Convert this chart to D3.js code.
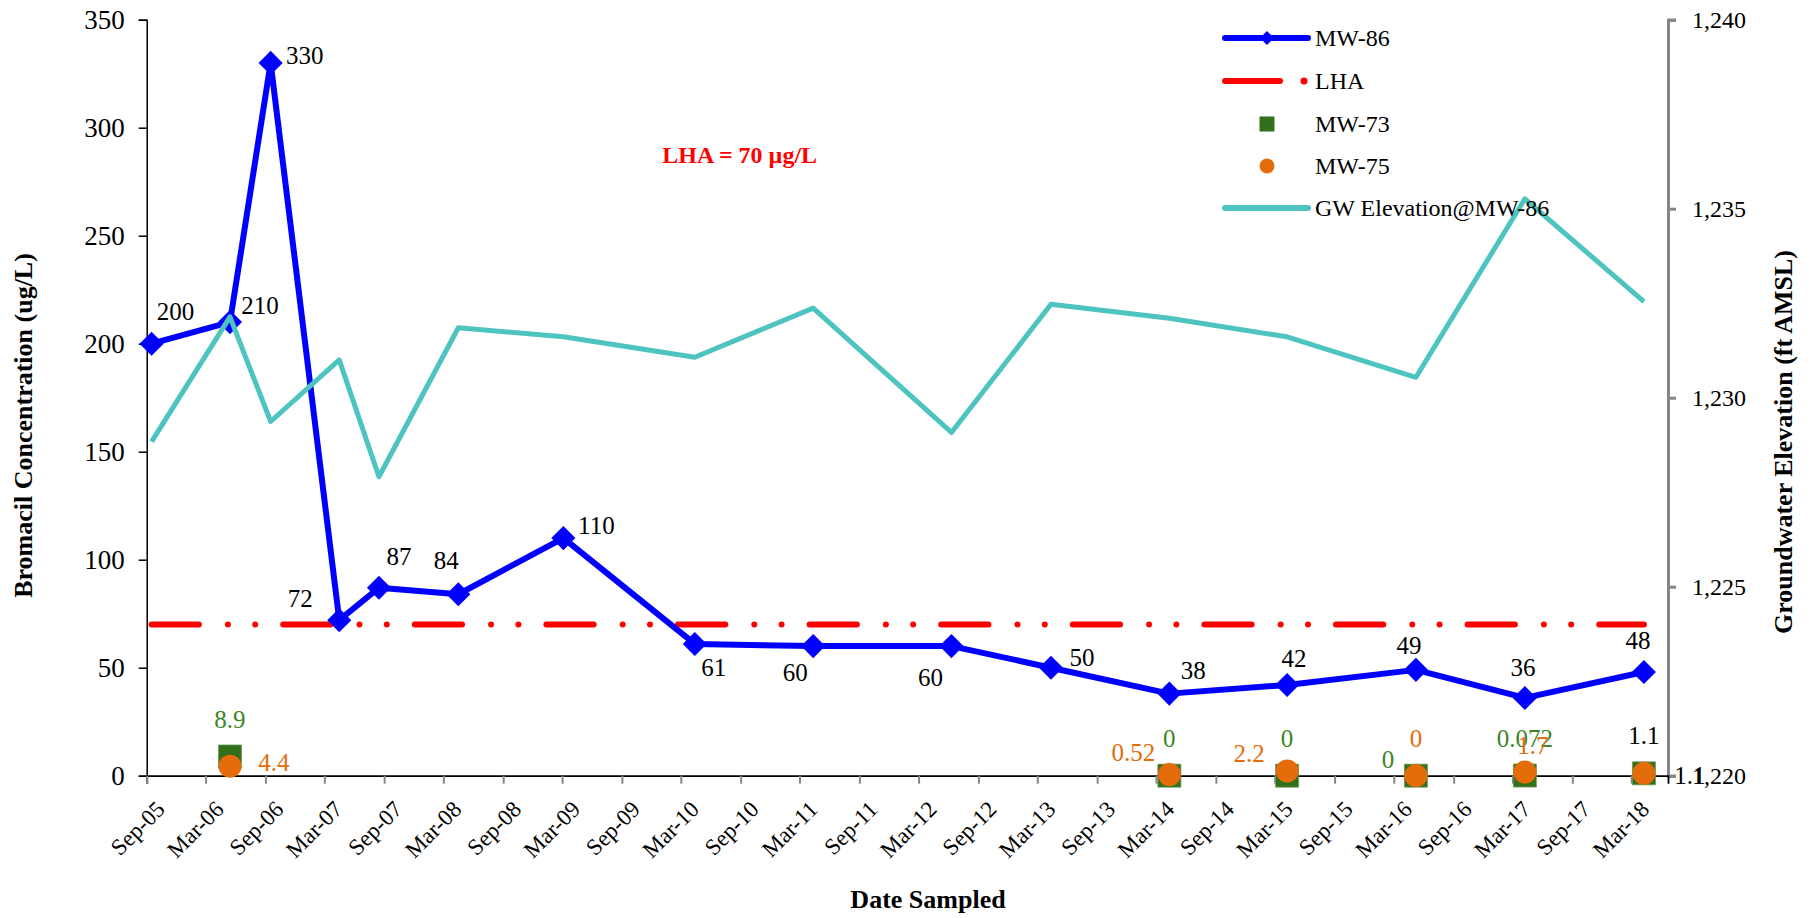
<!DOCTYPE html>
<html><head><meta charset="utf-8">
<script src="https://cdn.jsdelivr.net/npm/d3@7"></script>
<style>
html,body{margin:0;padding:0;background:#fff;}
svg{display:block;}
text{font-family:"Liberation Serif","Times New Roman",Times,serif;}
</style>
</head><body>
<svg id="chart" width="1816" height="918"></svg>
<script>
// ---------------- DATA ----------------
const sampleDates = ["2005-09-16","2006-05-15","2006-09-17","2007-04-16","2007-08-16","2008-04-16",
  "2009-03-05","2010-04-13","2011-04-12","2012-06-10","2013-04-12","2014-04-11","2015-04-08",
  "2016-05-08","2017-04-08","2018-04-09"];
const mw86 = [200,210,330,72,87,84,110,61,60,60,50,38,42,49,36,48];
const gwElevation = [1228.84,1232.14,1229.37,1231.0,1227.91,1231.85,1231.61,1231.07,1232.37,1229.08,
  1232.47,1232.10,1231.61,1230.54,1235.26,1232.54];
const lhaValue = 70;
const otherDates = ["2006-05-15","2014-04-11","2015-04-08","2016-05-08","2017-04-08","2018-04-09"];
const mw73 = [8.9,0,0,0,0.072,1.1];
const mw75 = [4.4,0.52,2.2,0,1.7,1.1];
const xTickLabels = ["Sep-05","Mar-06","Sep-06","Mar-07","Sep-07","Mar-08","Sep-08","Mar-09","Sep-09",
  "Mar-10","Sep-10","Mar-11","Sep-11","Mar-12","Sep-12","Mar-13","Sep-13","Mar-14","Sep-14","Mar-15",
  "Sep-15","Mar-16","Sep-16","Mar-17","Sep-17","Mar-18"];
const leftTicks = [0,50,100,150,200,250,300,350];
const rightTicks = [1220,1225,1230,1235,1240];
const xDomain = ["2005-09-01","2018-06-22"];
const leftDomain = [0,350];
const rightDomain = [1220,1240];
const legendNames = ["MW-86","LHA","MW-73","MW-75","GW Elevation@MW-86"];

// ---------------- STYLE ----------------
const C = {blue:"#0000FF", red:"#FF0000", green:"#33701B", greenText:"#3B8526", orange:"#E46C0A", teal:"#4DC4BF", gray:"#868686"};
const mw86LabelOff = [[24,-32],[30,-17],[34,-7],[-39,-22],[20,-31],[-12,-34],[33,-13],[19,24],[-18,26],[-21,31],[31,-10],[24,-23],[7,-26],[-7,-24],[-2,-30],[-6,-32]];
const mw73LabelOff = [[0,-37],[0,-37],[0,-37],[-28,-16],[0,-37],[0,-38]];
const mw75LabelOff = [[44,-4],[-36,-22],[-38,-17],[0,-37],[8,-27],[46,2]];
const mw73LabelColor = [C.greenText,C.greenText,C.greenText,C.greenText,C.greenText,"#000"];
const mw75LabelColor = [C.orange,C.orange,C.orange,C.orange,C.orange,"#000"];

const parse = d3.utcParse("%Y-%m-%d");
const parseTick = d3.utcParse("%b-%y");
const svg = d3.select("#chart");

const L = 146.7, R = 1668, T = 19.7, B = 775.7;
const x = d3.scaleUtc().domain(xDomain.map(parse)).range([L, R]);
const yL = d3.scaleLinear().domain(leftDomain).range([B, T]);
const yR = d3.scaleLinear().domain(rightDomain).range([B, T]);

// ---------------- AXES ----------------
// left axis
const gL = svg.append("g").attr("transform",`translate(${L},0)`)
  .call(d3.axisLeft(yL).tickValues(leftTicks).tickSize(8).tickPadding(14).tickFormat(d3.format("d")));
gL.select(".domain").attr("stroke","#000").attr("stroke-width",1.5);
gL.selectAll(".tick line").attr("stroke","#000").attr("stroke-width",1.5);
gL.selectAll(".tick text").attr("font-size",27).attr("fill","#000").attr("font-family","Liberation Serif, Times New Roman, serif");

// right axis
const gR = svg.append("g").attr("transform",`translate(${R},0)`)
  .call(d3.axisRight(yR).tickValues(rightTicks).tickSize(8).tickPadding(16).tickFormat(d3.format(",")));
gR.select(".domain").attr("stroke",C.gray).attr("stroke-width",3);
gR.selectAll(".tick line").attr("stroke",C.gray).attr("stroke-width",3);
gR.selectAll(".tick text").attr("font-size",24).attr("fill","#000").attr("font-family","Liberation Serif, Times New Roman, serif");

// bottom axis
const xTicks = xTickLabels.map(parseTick);
const gB = svg.append("g").attr("transform",`translate(0,${B})`)
  .call(d3.axisBottom(x).tickValues(xTicks).tickSize(8).tickFormat(d3.utcFormat("%b-%y")));
gB.select(".domain").attr("stroke","#000").attr("stroke-width",1.8);
gB.selectAll(".tick line").attr("stroke",C.gray).attr("stroke-width",2);
gB.selectAll(".tick text")
  .attr("font-size",23).attr("fill","#000").attr("font-family","Liberation Serif, Times New Roman, serif")
  .attr("text-anchor","end").attr("dy",null).attr("y",null)
  .attr("transform","translate(19,35) rotate(-45)");

// titles
svg.append("text").attr("transform","translate(32,425.5) rotate(-90)").attr("text-anchor","middle")
  .attr("font-size",26).attr("font-weight","bold").text("Bromacil Concentration (ug/L)");
svg.append("text").attr("transform","translate(1792,442) rotate(-90)").attr("text-anchor","middle")
  .attr("font-size",26).attr("font-weight","bold").text("Groundwater Elevation (ft AMSL)");
svg.append("text").attr("x",928).attr("y",908).attr("text-anchor","middle")
  .attr("font-size",26).attr("font-weight","bold").text("Date Sampled");
svg.append("text").attr("x",739.7).attr("y",163).attr("text-anchor","middle")
  .attr("font-size",24).attr("font-weight","bold").attr("fill",C.red).text("LHA = 70 \u00B5g/L");

// ---------------- SERIES ----------------
const d86 = sampleDates.map((d,i)=>({date:parse(d), v:mw86[i], gw:gwElevation[i]}));
const dOther = otherDates.map((d,i)=>({date:parse(d), a:mw73[i], b:mw75[i]}));

// LHA line
const lhaData = [d86[0].date, d86[d86.length-1].date];
svg.append("path")
  .attr("d", d3.line().x(d=>x(d)).y(()=>yL(lhaValue))(lhaData))
  .attr("fill","none").attr("stroke",C.red).attr("stroke-width",6)
  .attr("stroke-linecap","round").attr("stroke-dasharray","47.3 29 0 27.3 0 28");

// MW-86 line
svg.append("path")
  .attr("d", d3.line().x(d=>x(d.date)).y(d=>yL(d.v))(d86))
  .attr("fill","none").attr("stroke",C.blue).attr("stroke-width",6).attr("stroke-linejoin","round");
const diamond = d3.symbol().type(d3.symbolSquare).size(290);
svg.append("g").selectAll("path").data(d86).join("path")
  .attr("d", diamond)
  .attr("transform", d=>`translate(${x(d.date)},${yL(d.v)}) rotate(45)`)
  .attr("fill",C.blue);

// MW-73 squares
const sq = d3.symbol().type(d3.symbolSquare).size(23*23);
svg.append("g").selectAll("path").data(dOther).join("path")
  .attr("d", sq)
  .attr("transform", d=>`translate(${x(d.date)},${yL(d.a)})`)
  .attr("fill",C.green).attr("stroke","#6c9a55").attr("stroke-width",0.8);

// MW-75 circles
svg.append("g").selectAll("circle").data(dOther).join("circle")
  .attr("cx", d=>x(d.date)).attr("cy", d=>yL(d.b)).attr("r",11.5)
  .attr("fill",C.orange);

// GW line (secondary axis)
svg.append("path")
  .attr("d", d3.line().x(d=>x(d.date)).y(d=>yR(d.gw))(d86))
  .attr("fill","none").attr("stroke",C.teal).attr("stroke-width",5).attr("stroke-linejoin","round");

// ---------------- LABELS ----------------
const fmt = v => String(v);
svg.append("g").selectAll("text").data(d86).join("text")
  .attr("x",(d,i)=>x(d.date)+mw86LabelOff[i][0]).attr("y",(d,i)=>yL(d.v)+mw86LabelOff[i][1])
  .attr("text-anchor","middle").attr("dominant-baseline","central")
  .attr("font-size",25).attr("fill","#000").text(d=>fmt(d.v));
svg.append("g").selectAll("text").data(dOther).join("text")
  .attr("x",(d,i)=>x(d.date)+mw73LabelOff[i][0]).attr("y",(d,i)=>yL(d.a)+mw73LabelOff[i][1])
  .attr("text-anchor","middle").attr("dominant-baseline","central")
  .attr("font-size",25).attr("fill",(d,i)=>mw73LabelColor[i]).text(d=>fmt(d.a));
svg.append("g").selectAll("text").data(dOther).join("text")
  .attr("x",(d,i)=>x(d.date)+mw75LabelOff[i][0]).attr("y",(d,i)=>yL(d.b)+mw75LabelOff[i][1])
  .attr("text-anchor","middle").attr("dominant-baseline","central")
  .attr("font-size",25).attr("fill",(d,i)=>mw75LabelColor[i]).text(d=>fmt(d.b));

// ---------------- LEGEND ----------------
const legY = [38,81,124,166,208];
const lg = svg.append("g");
// MW-86
lg.append("line").attr("x1",1225).attr("x2",1308).attr("y1",legY[0]).attr("y2",legY[0])
  .attr("stroke",C.blue).attr("stroke-width",6).attr("stroke-linecap","round");
lg.append("path").attr("d",d3.symbol().type(d3.symbolSquare).size(100))
  .attr("transform",`translate(1267,${legY[0]}) rotate(45)`).attr("fill",C.blue);
// LHA
lg.append("line").attr("x1",1225).attr("x2",1280).attr("y1",legY[1]).attr("y2",legY[1])
  .attr("stroke",C.red).attr("stroke-width",6).attr("stroke-linecap","round");
lg.append("circle").attr("cx",1304).attr("cy",legY[1]).attr("r",3.5).attr("fill",C.red);
// MW-73
lg.append("rect").attr("x",1259.5).attr("y",legY[2]-7.5).attr("width",15).attr("height",15).attr("fill",C.green);
// MW-75
lg.append("circle").attr("cx",1267).attr("cy",legY[3]).attr("r",7.5).attr("fill",C.orange);
// GW
lg.append("line").attr("x1",1225).attr("x2",1308).attr("y1",legY[4]).attr("y2",legY[4])
  .attr("stroke",C.teal).attr("stroke-width",6).attr("stroke-linecap","round");
lg.selectAll("text.lt").data(legendNames).join("text").attr("class","lt")
  .attr("x",1315).attr("y",(d,i)=>legY[i]).attr("dominant-baseline","central")
  .attr("font-size",24).attr("fill","#000").text(d=>d);
</script>
</body></html>
